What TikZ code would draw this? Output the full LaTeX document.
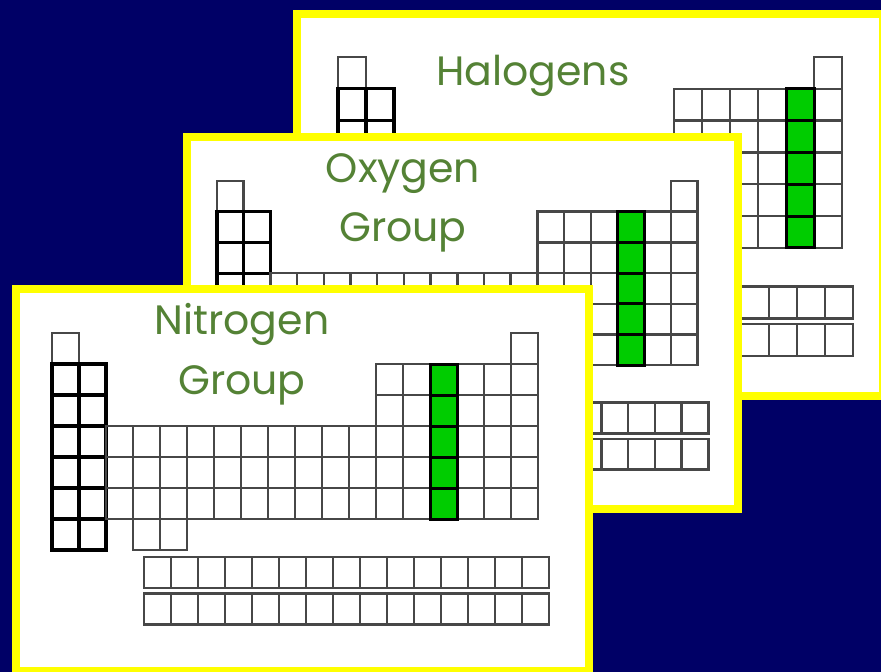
\documentclass[tikz,border=0pt]{standalone}
\usepackage{fontspec}
\newfontfamily\titlefont{Poppins}
\definecolor{navybg}{RGB}{0,0,102}
\definecolor{cardyellow}{RGB}{255,255,0}
\definecolor{titlegreen}{RGB}{84,130,53}
\definecolor{cellgreen}{RGB}{0,204,0}
\tikzset{every picture/.style={line width=0.75pt},
  card/.style={fill=white, draw=cardyellow, line width=8pt},
  cell/.style={draw=black!72, line width=2.5pt},
  sblock/.style={draw=black, line width=3.2pt},
  groupcell/.style={fill=cellgreen, draw=black, line width=3pt},
  title/.style={text=titlegreen, font=\titlefont\fontsize{41}{43}\selectfont, anchor=base}}

% blank periodic table in cell units, #1 = group shown in green
\newcommand{\ptable}[1]{%
  \draw[cell] (0,0) rectangle (1,1);
  \foreach \r in {1,...,6}
    \foreach \c in {0,1}
      \draw[sblock] (\c,\r) rectangle ++(1,1);
  \foreach \r in {3,4,5}
    \foreach \c in {2,...,11}
      \draw[cell] (\c,\r) rectangle ++(1,1);
  \foreach \c in {3,4}
    \draw[cell] (\c,6) rectangle ++(1,1);
  \foreach \r in {1,...,5}
    \foreach \c in {12,...,17}
      \draw[cell] (\c,\r) rectangle ++(1,1);
  \draw[cell] (17,0) rectangle (18,1);
  \foreach \c in {0,...,14} {
    \draw[cell] (3.4+\c,7.22) rectangle ++(1,1);
    \draw[cell] (3.4+\c,8.4) rectangle ++(1,1);
  }
  \foreach \r in {1,...,5}
    \draw[groupcell] (#1-1,\r) rectangle ++(1,1);
}

\begin{document}
\begin{tikzpicture}[x=1pt, y=-1pt]
  \clip (0,0) rectangle (881,672);
  \fill[navybg] (0,0) rectangle (881,672);

  % --- carte du fond : halogenes ---
  \draw[card] (297,14) rectangle (883,396);
  \begin{scope}[shift={(338,57)}, x=28pt, y=-31.8pt]
    \ptable{17}
  \end{scope}
  \node[title] (halogens) at (533,85) {Halogens};

  % --- carte du milieu : groupe de l'oxygene ---
  \draw[card] (187,137) rectangle (738,509);
  \begin{scope}[shift={(217,181)}, x=26.7pt, y=-30.7pt]
    \ptable{16}
  \end{scope}
  \node[title] (oxygen) at (403,182) {Oxygen};
  \node[title] (oxygengroup) at (403,241) {Group};

  % --- carte de devant : groupe de l'azote ---
  \draw[card] (16,289) rectangle (589,671);
  \begin{scope}[shift={(52,333)}, x=27pt, y=-31pt]
    \ptable{15}
  \end{scope}
  \node[title] (nitrogen) at (242,334) {Nitrogen};
  \node[title] (nitrogengroup) at (242,394) {Group};
\end{tikzpicture}
\end{document}
